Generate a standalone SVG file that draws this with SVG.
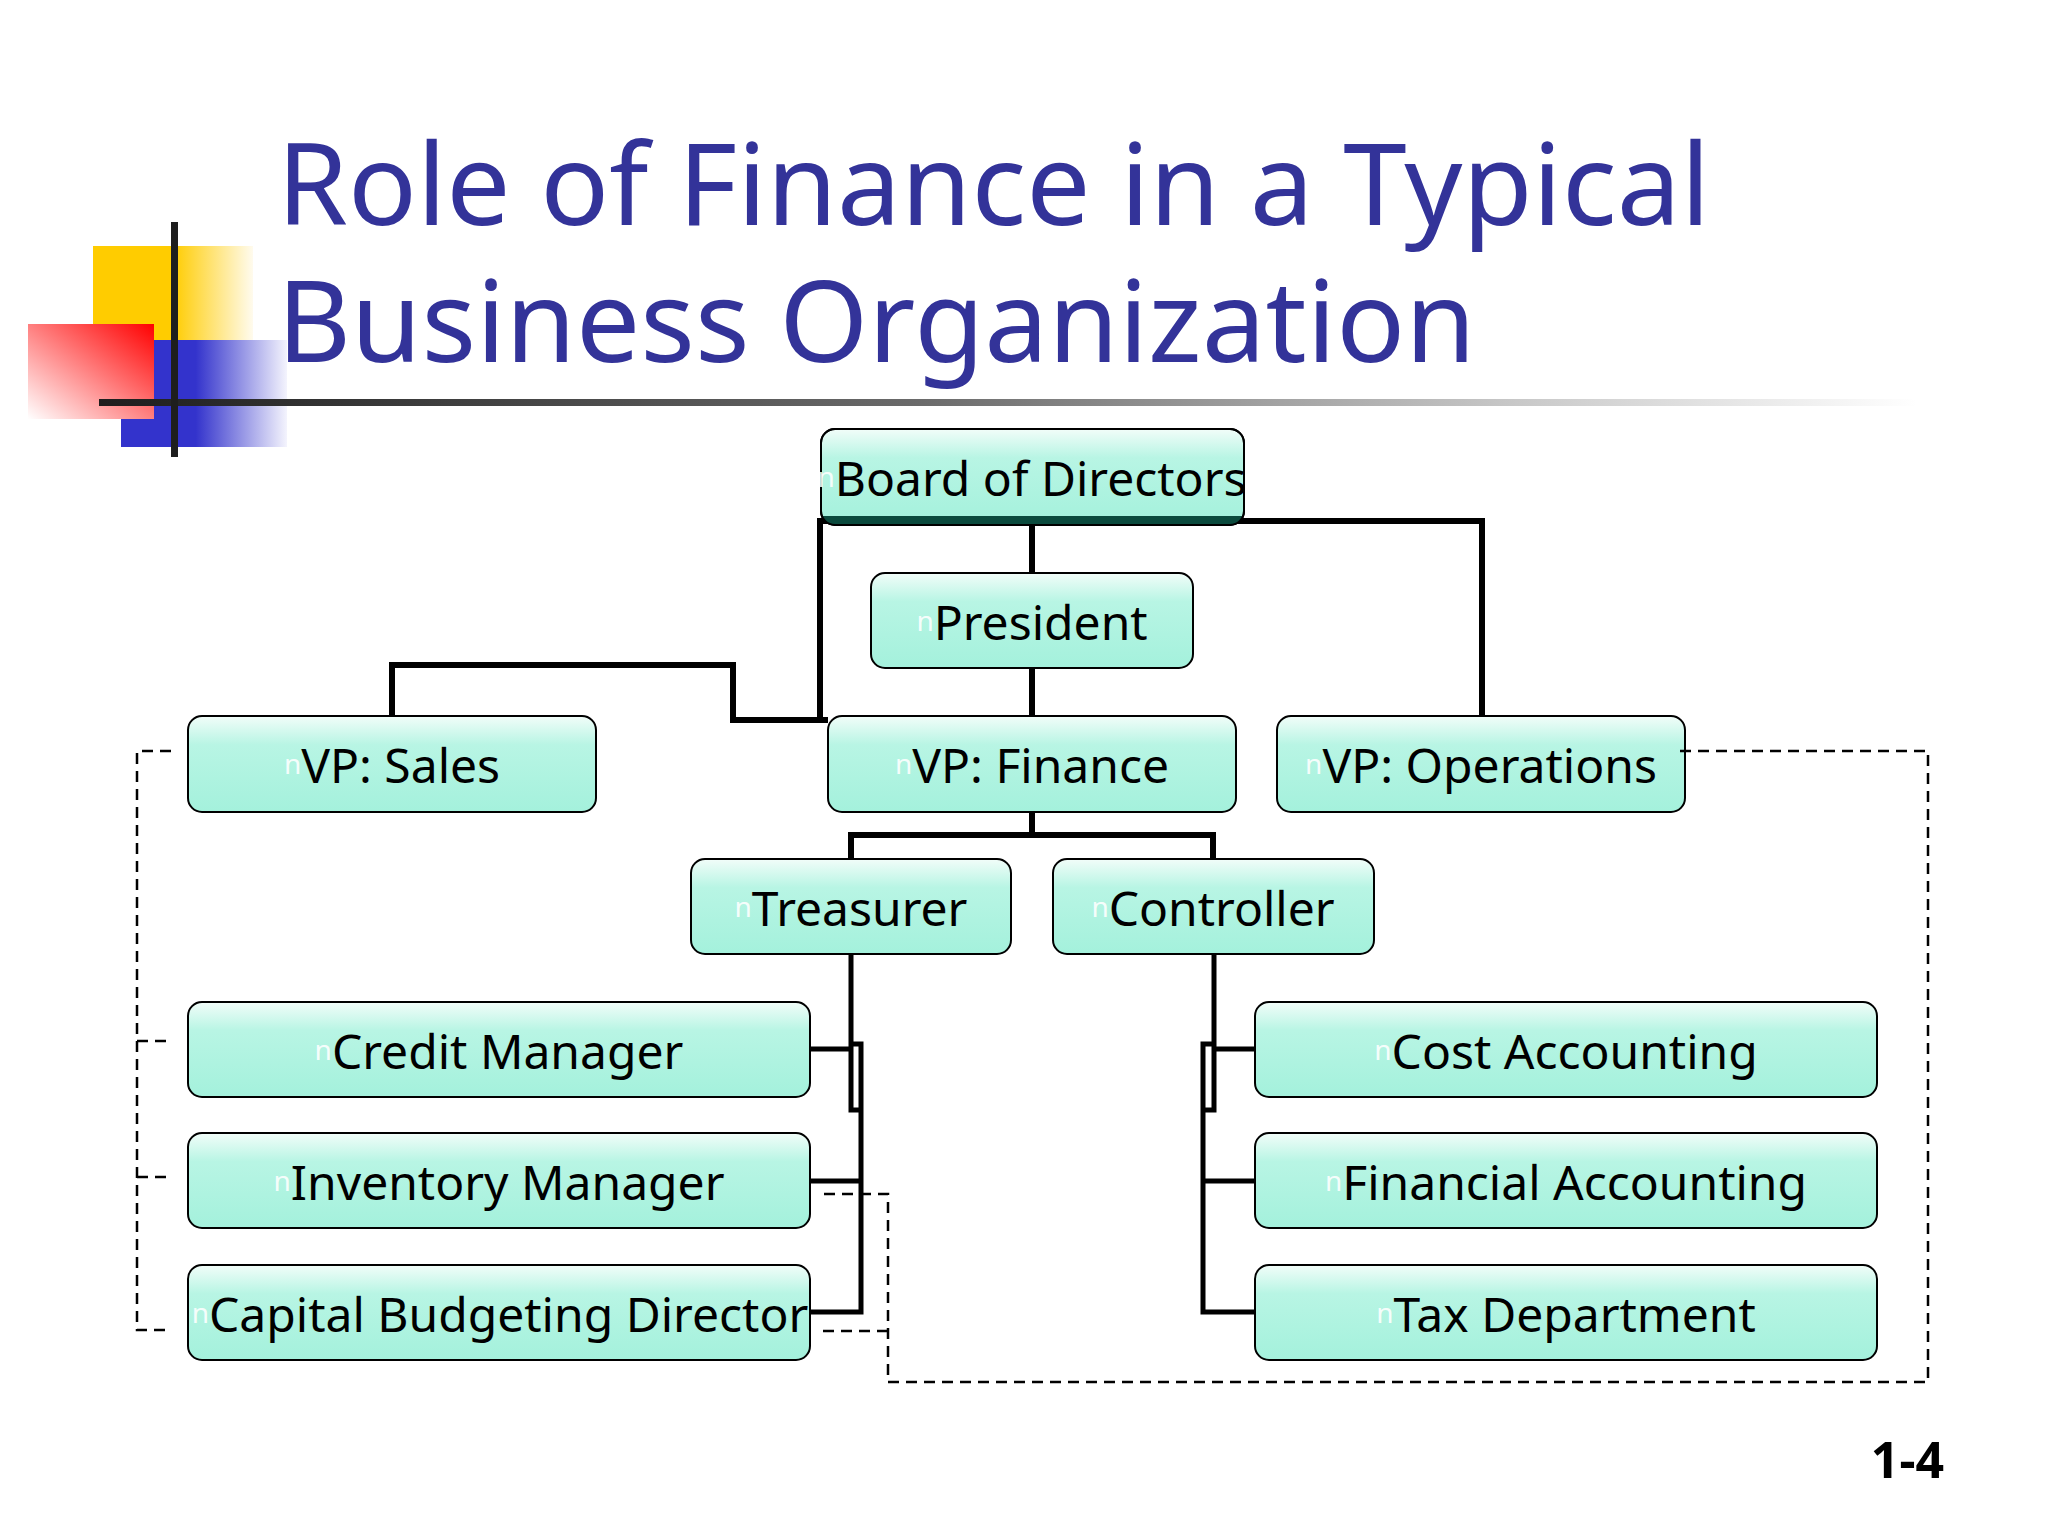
<svg xmlns="http://www.w3.org/2000/svg" width="2048" height="1536" viewBox="0 0 2048 1536">
<defs>
<style>
.title{font-family:"Noto Sans","Open Sans","DejaVu Sans",sans-serif;font-size:114px;fill:#333399}
.box{fill:url(#boxg);stroke:#000;stroke-width:2}
.lbl{font-family:"Noto Sans","Open Sans","DejaVu Sans",sans-serif;font-size:48px;fill:#000;text-anchor:middle}
.bul{font-size:28px;fill:#ffffff;fill-opacity:0.9}
.solid{fill:none;stroke:#000;stroke-width:6;stroke-linejoin:miter;stroke-linecap:butt}
.thin{stroke-width:5}
.dash{fill:none;stroke:#000;stroke-width:2.5;stroke-dasharray:11 7}
.pg{font-family:"Noto Sans","Open Sans","DejaVu Sans",sans-serif;font-size:50px;font-weight:bold;fill:#000;text-anchor:end}
</style>
<linearGradient id="boxg" x1="0" y1="0" x2="0" y2="1">
<stop offset="0" stop-color="#f2fdf9"/>
<stop offset="0.3" stop-color="#b8f5e4"/>
<stop offset="1" stop-color="#a4f1dc"/>
</linearGradient>
<linearGradient id="yel" x1="0" y1="0" x2="1" y2="0">
<stop offset="0" stop-color="#ffcc00"/>
<stop offset="0.5" stop-color="#ffcc00"/>
<stop offset="1" stop-color="#fffbee"/>
</linearGradient>
<linearGradient id="blu" x1="0" y1="0" x2="1" y2="0">
<stop offset="0" stop-color="#3333cc"/>
<stop offset="0.45" stop-color="#3333cc"/>
<stop offset="1" stop-color="#f4f4fd"/>
</linearGradient>
<linearGradient id="red" x1="1" y1="0" x2="0" y2="1">
<stop offset="0" stop-color="#ff0000"/>
<stop offset="1" stop-color="#ffffff"/>
</linearGradient>
<linearGradient id="rule" gradientUnits="userSpaceOnUse" x1="99" y1="0" x2="1917" y2="0">
<stop offset="0" stop-color="#1e1e1e"/>
<stop offset="0.45" stop-color="#6a6a6a"/>
<stop offset="0.78" stop-color="#c8c8c8"/>
<stop offset="1" stop-color="#ffffff"/>
</linearGradient>
<clipPath id="boardclip"><rect x="821" y="429" width="423" height="96" rx="14"/></clipPath>
</defs>
<rect width="2048" height="1536" fill="#ffffff"/>

<g id="logo">
<rect x="93" y="246" width="160" height="154" fill="url(#yel)"/>
<rect x="121" y="340" width="166" height="107" fill="url(#blu)"/>
<rect x="28" y="324" width="126" height="95" fill="url(#red)"/>
<rect x="99" y="399" width="1818" height="7" fill="url(#rule)"/>
<rect x="171" y="222" width="7" height="235" fill="#1e1e1e"/>
</g>

<g id="title">
<text class="title" x="277" y="225">Role of Finance in a Typical</text>
<text class="title" x="277" y="362">Business Organization</text>
</g>

<g id="connectors">
<path class="solid" d="M828 720 H733 V665 H392 V716"/>
<path class="solid" d="M820 720 V521 H1482 V716"/>
<path class="solid" d="M1032 525 V573"/>
<path class="solid" d="M1032 668 V716"/>
<path class="solid" d="M1032 812 V835 H851 V859"/>
<path class="solid" d="M1032 835 H1213 V859"/>
<path class="solid thin" d="M851 954 V1110 H861"/>
<path class="solid thin" d="M851 1044 H861 V1312 H810"/>
<path class="solid thin" d="M861 1181 H810"/>
<path class="solid thin" d="M851 1049 H810"/>
<path class="solid thin" d="M1214 954 V1110 H1203"/>
<path class="solid thin" d="M1214 1044 H1203 V1312 H1255"/>
<path class="solid thin" d="M1203 1181 H1255"/>
<path class="solid thin" d="M1214 1049 H1255"/>
<path class="dash" d="M171 751 H137 V1330 H171"/>
<path class="dash" d="M137 1041 H171"/>
<path class="dash" d="M137 1177 H171"/>
<path class="dash" d="M888 1331 H819"/>
</g>

<g id="board">
<rect class="box" x="821" y="429" width="423" height="96" rx="14"/>
<rect x="815" y="516" width="435" height="12" fill="#0b4a3d" clip-path="url(#boardclip)"/>
<rect x="821" y="429" width="423" height="96" rx="14" fill="none" stroke="#000" stroke-width="2"/>
<text class="lbl" x="1032" y="496"><tspan class="bul" dy="-9">n</tspan><tspan dy="9">Board of Directors</tspan></text>
</g>
<g id="president">
<rect class="box" x="871" y="573" width="322" height="95" rx="14"/>
<text class="lbl" x="1032" y="640"><tspan class="bul" dy="-9">n</tspan><tspan dy="9">President</tspan></text>
</g>
<g id="vp-sales">
<rect class="box" x="188" y="716" width="408" height="96" rx="14"/>
<text class="lbl" x="392" y="783"><tspan class="bul" dy="-9">n</tspan><tspan dy="9">VP: Sales</tspan></text>
</g>
<g id="vp-finance">
<rect class="box" x="828" y="716" width="408" height="96" rx="14"/>
<text class="lbl" x="1032" y="783"><tspan class="bul" dy="-9">n</tspan><tspan dy="9">VP: Finance</tspan></text>
</g>
<g id="vp-operations">
<rect class="box" x="1277" y="716" width="408" height="96" rx="14"/>
<text class="lbl" x="1481" y="783"><tspan class="bul" dy="-9">n</tspan><tspan dy="9">VP: Operations</tspan></text>
</g>
<g id="treasurer">
<rect class="box" x="691" y="859" width="320" height="95" rx="14"/>
<text class="lbl" x="851" y="926"><tspan class="bul" dy="-9">n</tspan><tspan dy="9">Treasurer</tspan></text>
</g>
<g id="controller">
<rect class="box" x="1053" y="859" width="321" height="95" rx="14"/>
<text class="lbl" x="1213" y="926"><tspan class="bul" dy="-9">n</tspan><tspan dy="9">Controller</tspan></text>
</g>
<g id="credit-manager">
<rect class="box" x="188" y="1002" width="622" height="95" rx="14"/>
<text class="lbl" x="499" y="1069"><tspan class="bul" dy="-9">n</tspan><tspan dy="9">Credit Manager</tspan></text>
</g>
<g id="inventory-manager">
<rect class="box" x="188" y="1133" width="622" height="95" rx="14"/>
<text class="lbl" x="499" y="1200"><tspan class="bul" dy="-9">n</tspan><tspan dy="9">Inventory Manager</tspan></text>
</g>
<g id="capital-budgeting-director">
<rect class="box" x="188" y="1265" width="622" height="95" rx="14"/>
<text class="lbl" x="500" y="1332"><tspan class="bul" dy="-9">n</tspan><tspan dy="9">Capital Budgeting Director</tspan></text>
</g>
<g id="cost-accounting">
<rect class="box" x="1255" y="1002" width="622" height="95" rx="14"/>
<text class="lbl" x="1566" y="1069"><tspan class="bul" dy="-9">n</tspan><tspan dy="9">Cost Accounting</tspan></text>
</g>
<g id="financial-accounting">
<rect class="box" x="1255" y="1133" width="622" height="95" rx="14"/>
<text class="lbl" x="1566" y="1200"><tspan class="bul" dy="-9">n</tspan><tspan dy="9">Financial Accounting</tspan></text>
</g>
<g id="tax-department">
<rect class="box" x="1255" y="1265" width="622" height="95" rx="14"/>
<text class="lbl" x="1566" y="1332"><tspan class="bul" dy="-9">n</tspan><tspan dy="9">Tax Department</tspan></text>
</g>

<g id="overlay-connectors">
<path class="dash" d="M1680 751 H1928 V1382 H888 V1194 H819"/>
</g>

<text class="pg" x="1944" y="1478">1-4</text>
</svg>
